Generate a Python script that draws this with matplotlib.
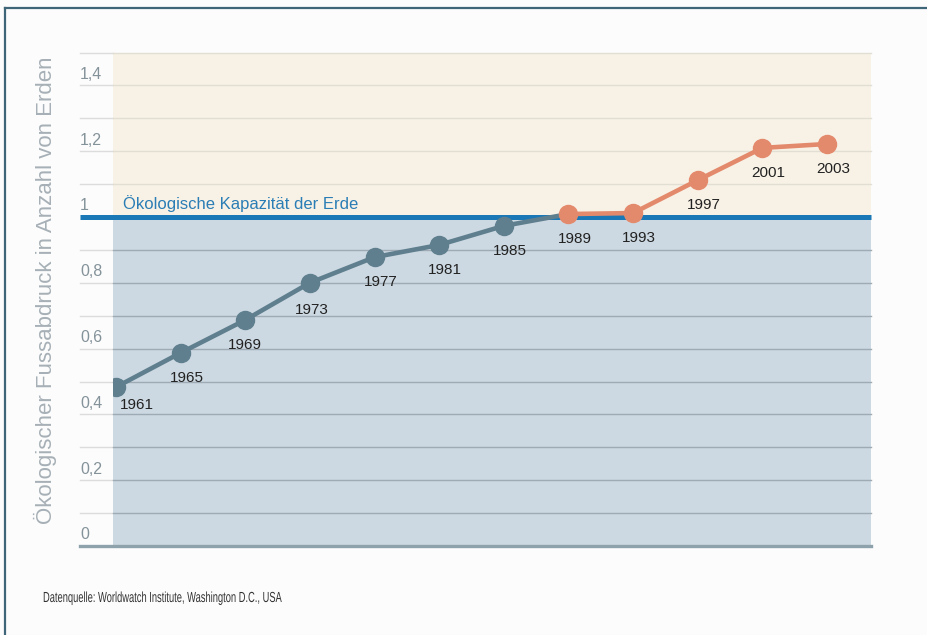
import matplotlib
matplotlib.use("Agg")
import matplotlib.pyplot as plt
from matplotlib.lines import Line2D
from matplotlib.patches import PathPatch
from matplotlib.textpath import TextPath
from matplotlib.font_manager import FontProperties
from matplotlib.transforms import Affine2D

plt.rcParams["font.family"] = ["Liberation Sans", "DejaVu Sans"]

YEARS = ["1961", "1965", "1969", "1973", "1977", "1981",
         "1985", "1989", "1993", "1997", "2001", "2003"]
FOOTPRINT = [0.483, 0.587, 0.687, 0.800, 0.878, 0.915,
             0.973, 1.009, 1.012, 1.112, 1.210, 1.222]
Y_TICKS = [0, 0.2, 0.4, 0.6, 0.8, 1, 1.2, 1.4]
Y_TICK_LABELS = ["0", "0,2", "0,4", "0,6", "0,8", "1", "1,2", "1,4"]
CAPACITY = 1.0
SPLIT = 7  # 1989: from here on the footprint exceeds the capacity

SOURCE = "Datenquelle: Worldwatch Institute, Washington D.C., USA"

GREY = "#5f7f8f"
ORANGE = "#e48a6c"
BLUE = "#1a78b6"
CREAM = "#f8f2e6"
LIGHTBLUE = "#cdd9e2"


def draw_background(ax):
    ax.axhspan(0, CAPACITY, color=LIGHTBLUE, zorder=0, lw=0)
    ax.axhspan(CAPACITY, 1.5, color=CREAM, zorder=0, lw=0)
    left = -33 / 758
    for i in range(1, 16):
        v = i / 10
        if abs(v - CAPACITY) < 1e-9:
            continue
        col = "#9eabb4" if v < CAPACITY else "#e2ded4"
        ax.plot([left, 0], [v, v], transform=ax.get_yaxis_transform(),
                color="#dcdcdc", lw=1.0, clip_on=False, zorder=1)
        ax.plot([0, 1], [v, v], transform=ax.get_yaxis_transform(),
                color=col, lw=1.0, clip_on=False, zorder=1)
    ax.plot([left, 1], [0, 0], transform=ax.get_yaxis_transform(),
            color="#8ea2ab", lw=2.4, clip_on=False, zorder=2)
    ax.plot([left, 1], [CAPACITY, CAPACITY], transform=ax.get_yaxis_transform(),
            color=BLUE, lw=3.6, clip_on=False, solid_capstyle="butt", zorder=3)
    ax.text(10 / 758, CAPACITY + 0.042, "Ökologische Kapazität der Erde",
            transform=ax.get_yaxis_transform(), color="#2a7db5",
            fontsize=12, ha="left", va="center")
    for v, lab in zip(Y_TICKS, Y_TICK_LABELS):
        ax.text(left, v + 0.034, lab, transform=ax.get_yaxis_transform(),
                color="#84929a", fontsize=11.5, ha="left", va="center")


def plot():
    fig = plt.figure(figsize=(9.27, 6.35), dpi=100, facecolor="#fcfcfc")
    ax = fig.add_axes([113 / 927, 89 / 635, 758 / 927, 493.5 / 635])
    ax.set_xlim(-0.046, 11.68)
    ax.set_ylim(0, 1.5)
    ax.axis("off")

    draw_background(ax)

    x = list(range(len(YEARS)))
    ax.plot(x[:SPLIT + 1], FOOTPRINT[:SPLIT + 1], color=GREY, lw=3.3,
            solid_capstyle="round", zorder=4)
    ax.plot(x[:SPLIT], FOOTPRINT[:SPLIT], "o", color=GREY, ms=13, zorder=5)
    ax.plot(x[SPLIT:], FOOTPRINT[SPLIT:], color=ORANGE, lw=3.3,
            marker="o", ms=13, zorder=6)

    offsets = [(21, -18)] + [(6, -25)] * (len(YEARS) - 1)
    offsets[2] = (0, -25)
    offsets[3] = (2, -27)
    for xi, yi, lab, off in zip(x, FOOTPRINT, YEARS, offsets):
        ax.annotate(lab, (xi, yi), xytext=off, textcoords="offset pixels",
                    ha="center", va="center", fontsize=11, color="#222222",
                    zorder=7)

    fig.text(45 / 927, 1 - 290 / 635,
             "Ökologischer Fussabdruck in Anzahl von Erden",
             rotation=90, ha="center", va="center", fontsize=16,
             color="#a6b0b6")

    # source line in a condensed look: text path squeezed horizontally
    tp = TextPath((0, 0), SOURCE, size=10.5 * 100 / 72,
                  prop=FontProperties(family="Liberation Sans"))
    squeeze = 238 / tp.get_extents().width
    fig.add_artist(PathPatch(tp, color="#333333", lw=0,
                             transform=Affine2D().scale(squeeze, 1)
                             .translate(43, 635 - 602)))

    # frame (top and left edges only are visible)
    fig.add_artist(Line2D([5 / 927, 5 / 927], [0, 1 - 8 / 635],
                          transform=fig.transFigure, color="#3f6578", lw=1.6))
    fig.add_artist(Line2D([5 / 927, 1], [1 - 8 / 635, 1 - 8 / 635],
                          transform=fig.transFigure, color="#3f6578", lw=1.6))

    fig.savefig("out.png", dpi=100, facecolor=fig.get_facecolor())


def main():
    plot()


if __name__ == "__main__":
    main()
